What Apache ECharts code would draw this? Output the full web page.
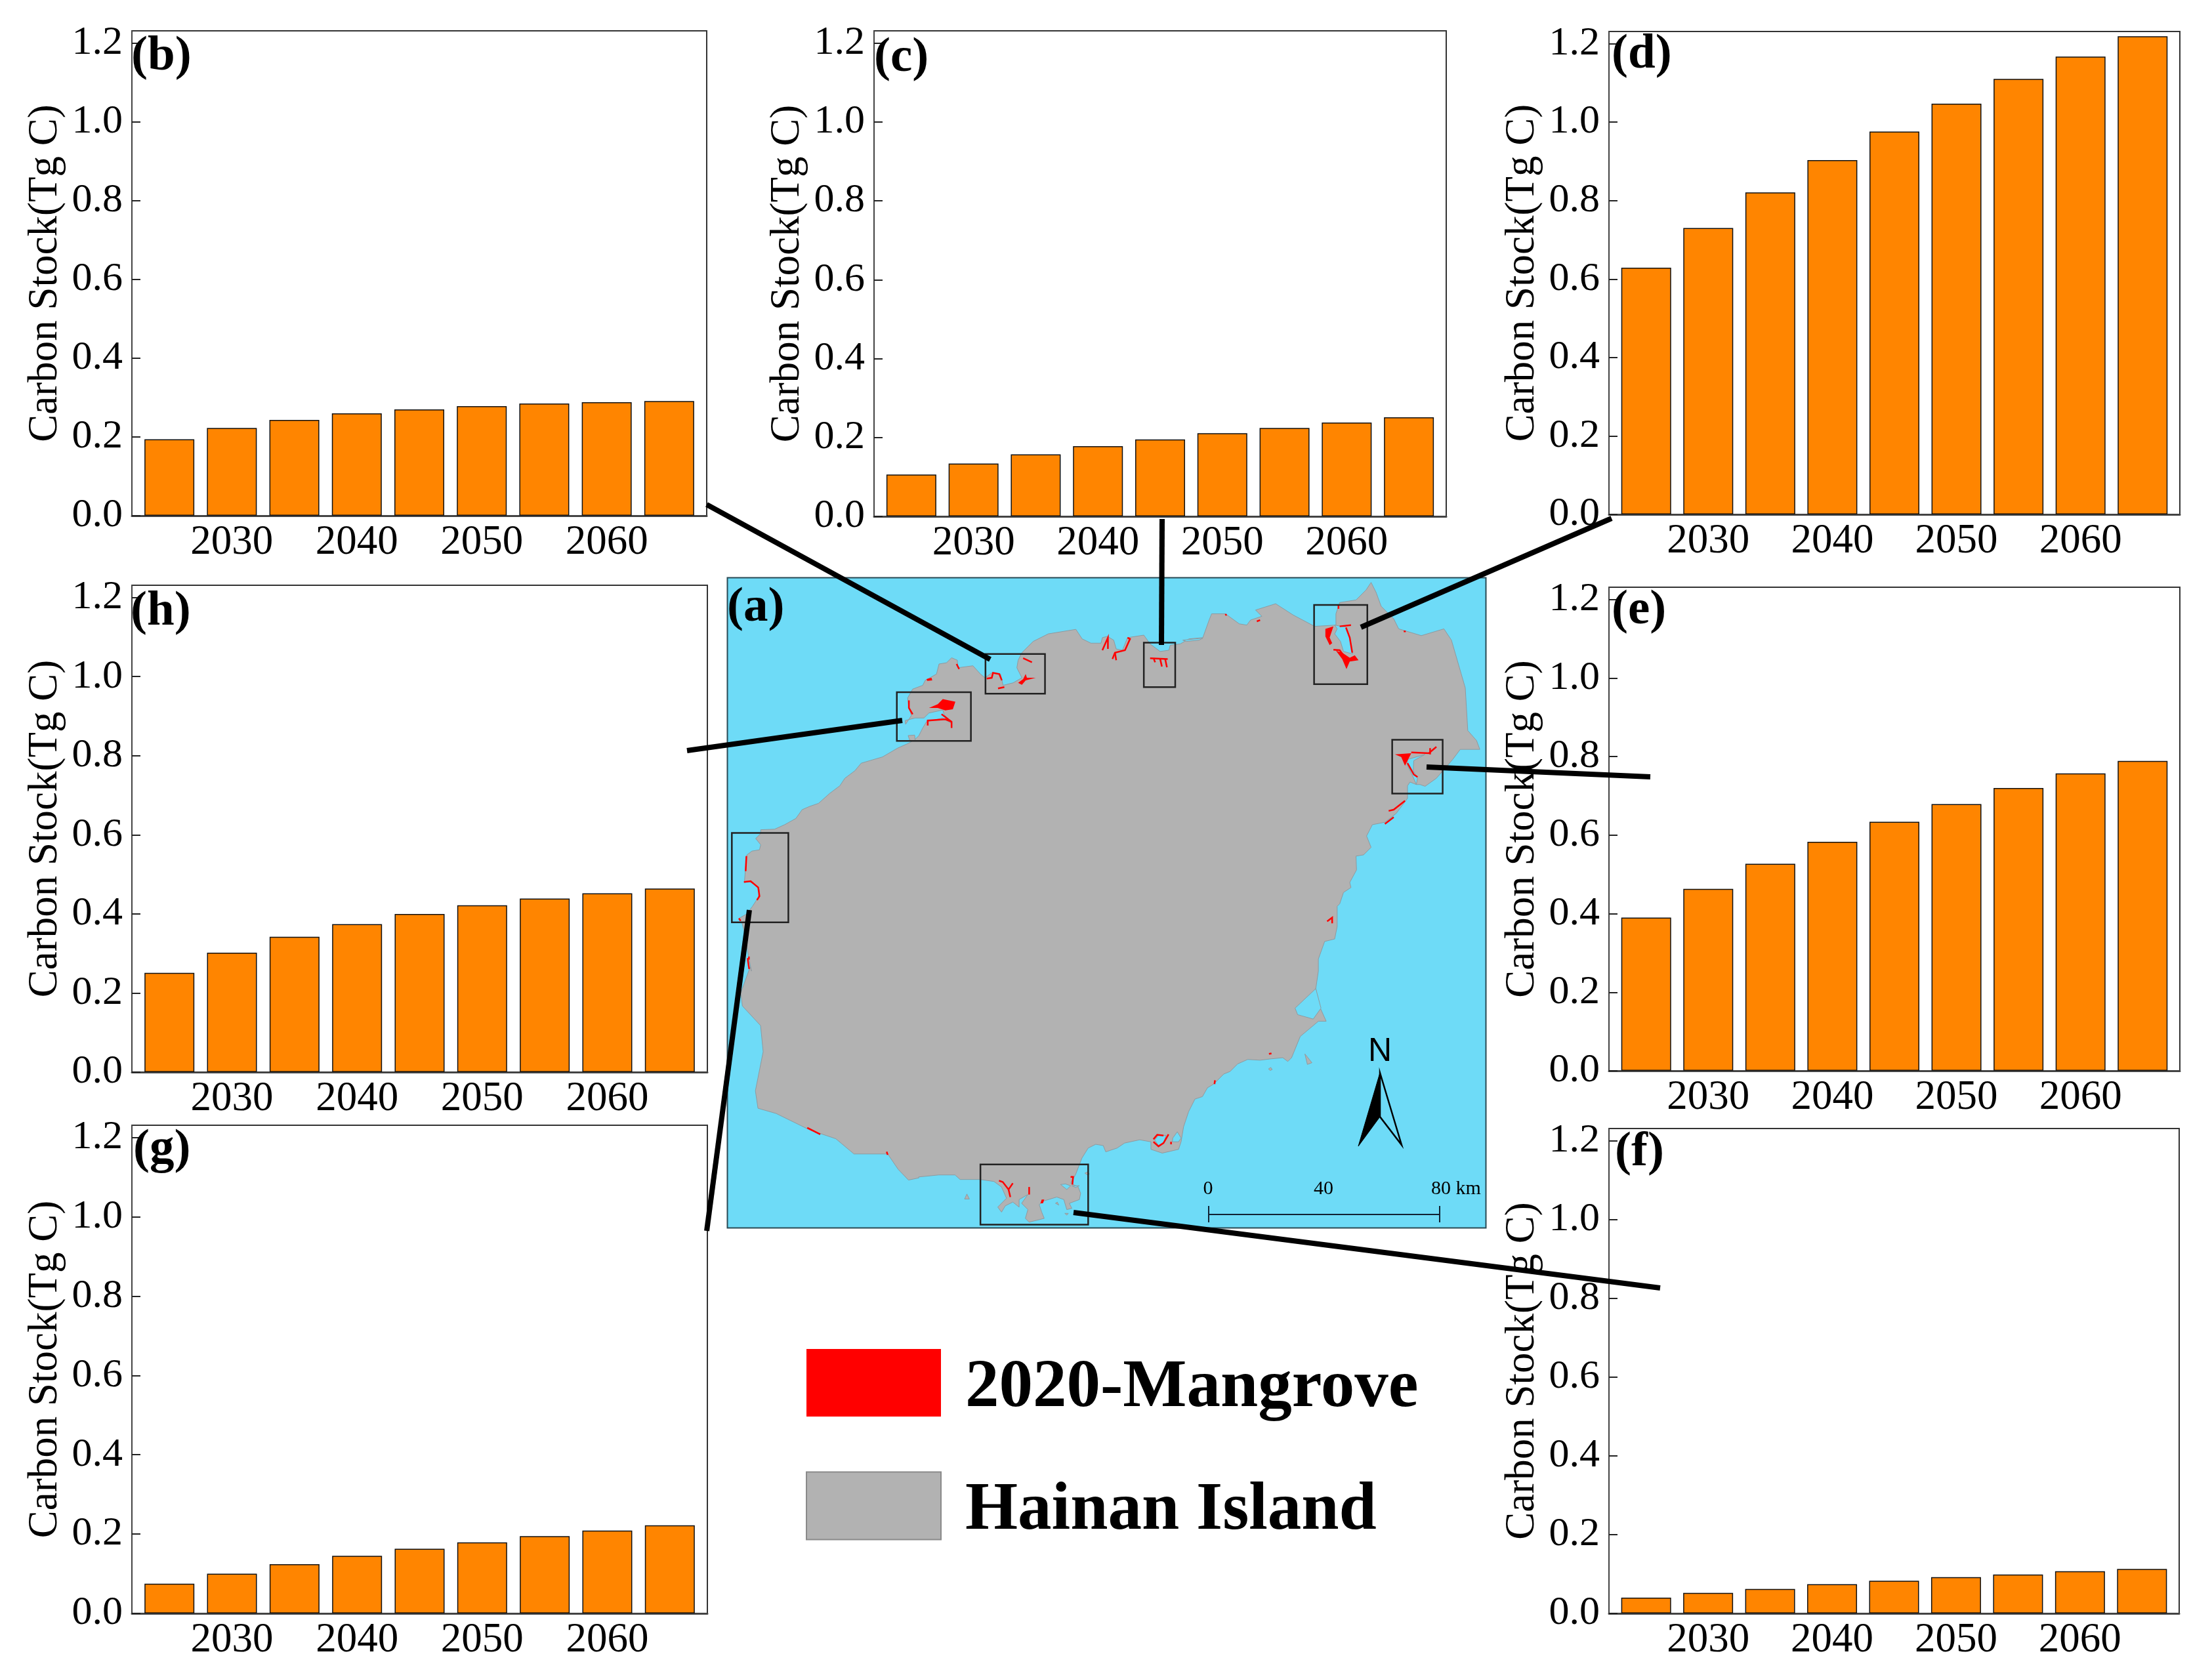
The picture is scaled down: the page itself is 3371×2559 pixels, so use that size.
<!DOCTYPE html>
<html>
<head>
<meta charset="utf-8">
<style>
  html, body { margin: 0; background: #fff; }
  #chart { width: 3371px; height: 2559px; }
</style>
<script src="https://cdn.jsdelivr.net/npm/echarts@6/dist/echarts.min.js"></script>
</head>
<body>
<div id="chart"></div>
<script>
const years = [2025, 2030, 2035, 2040, 2045, 2050, 2055, 2060, 2065];
const yearTicks = [2030, 2040, 2050, 2060];
const stockTicks = [0, 0.2, 0.4, 0.6, 0.8, 1.0, 1.2];

const stockB = [0.194, 0.223, 0.243, 0.26, 0.27, 0.278, 0.285, 0.288, 0.291];
const stockC = [0.106, 0.134, 0.157, 0.178, 0.195, 0.211, 0.224, 0.238, 0.251];
const stockD = [0.629, 0.73, 0.821, 0.903, 0.976, 1.047, 1.11, 1.167, 1.219];
const stockE = [0.39, 0.463, 0.527, 0.583, 0.634, 0.679, 0.72, 0.757, 0.789];
const stockF = [0.04, 0.052, 0.062, 0.074, 0.083, 0.092, 0.0985, 0.107, 0.113];
const stockG = [0.075, 0.1, 0.124, 0.145, 0.163, 0.179, 0.195, 0.209, 0.222];
const stockH = [0.251, 0.302, 0.342, 0.374, 0.4, 0.422, 0.439, 0.452, 0.464];

// panel frames in page pixels
const panels = [
  { label: '(b)', data: stockB, left: 201, right: 1077, top: 47, bottom: 786, labelX: 200, labelY: 49 },
  { label: '(c)', data: stockC, left: 1332, right: 2204, top: 47, bottom: 787, labelX: 1332, labelY: 51 },
  { label: '(d)', data: stockD, left: 2452, right: 3322, top: 48, bottom: 784, labelX: 2456, labelY: 46 },
  { label: '(e)', data: stockE, left: 2452, right: 3322, top: 895, bottom: 1632, labelX: 2456, labelY: 893 },
  { label: '(f)', data: stockF, left: 2452, right: 3321, top: 1720, bottom: 2459, labelX: 2461, labelY: 1719 },
  { label: '(g)', data: stockG, left: 201, right: 1078, top: 1715, bottom: 2459, labelX: 203, labelY: 1715 },
  { label: '(h)', data: stockH, left: 201, right: 1078, top: 892, bottom: 1634, labelX: 199, labelY: 895 }
];

const cropNW = [1100, 880, 0.3827, 0.3827];
const cropNE = [1680, 880, 0.3827, 0.3827];
const cropS = [1400, 1480, 0.3827, 0.3827];
const cropAll = [1080, 860, 0.7908, 0.6633];
const toPage = (crop, pts) => pts.map(p => [crop[0] + p[0] * crop[2], crop[1] + p[1] * crop[3]]);

const coastNW = [[118,1568],[105,1500],[92,1420],[80,1375],[68,1358],[100,1340],[122,1310],[145,1275],[150,1245],[135,1225],[110,1212],[90,1215],[95,1150],[100,1105],[120,1090],[150,1085],[155,1065],[135,1040],[155,1020],[155,1005],[210,1003],[250,985],[295,960],[320,925],[350,912],[385,900],[430,860],[470,830],[490,800],[530,770],[555,740],[640,715],[700,680],[745,660],[770,645],[785,630],[800,600],[815,575],[880,560],[915,582],[885,545],[880,528],[825,540],[805,560],[770,560],[730,570],[732,585],[755,550],[745,520],[740,480],[760,445],[800,430],[810,410],[855,385],[865,345],[895,340],[915,320],[938,330],[940,360],[1000,352],[1030,385],[1048,400],[1075,380],[1110,385],[1120,430],[1160,420],[1195,400],[1175,360],[1180,330],[1195,300],[1240,255],[1300,225],[1410,207],[1435,245],[1470,262],[1510,262]];
const coastNE = [[0,240],[20,235],[45,250],[55,285],[80,290],[100,240],[165,230],[190,265],[230,295],[265,290],[270,270],[310,265],[345,245],[400,240],[425,170],[435,145],[490,145],[545,185],[575,190],[590,170],[635,155],[610,130],[690,105],[760,150],[845,195],[930,190],[930,145],[945,100],[1010,90],[1050,50],[1070,20],[1090,60],[1110,115],[1160,165],[1180,205],[1270,232],[1360,205],[1390,250],[1445,440],[1455,610],[1490,650],[1503,685],[1425,685],[1395,725],[1330,800],[1285,832],[1265,825],[1250,825],[1225,815],[1215,830],[1215,880],[1170,940],[1125,975],[1075,985],[1052,1030],[1070,1075],[1040,1105],[1010,1110],[1012,1165],[985,1215],[990,1235],[960,1255],[945,1300],[935,1310],[935,1390],[925,1440],[885,1450],[860,1520],[860,1568]];
const coastE = [[1170,975],[1175,1010],[1190,1050],[1175,1050],[1140,1085]];
const coastS = [[1485,345],[1470,360],[1450,345],[1400,350],[1360,355],[1310,352],[1270,370],[1240,400],[1215,410],[1175,450],[1150,465],[1130,500],[1100,510],[1075,560],[1055,620],[1045,680],[1035,710],[970,725],[925,710],[925,680],[880,672],[820,685],[790,705],[745,720],[735,695],[705,690],[675,705],[650,745],[625,810],[605,845],[635,860],[645,885],[640,910],[600,925],[610,945],[590,950],[578,910],[550,900],[500,915],[480,930],[490,960],[500,985],[440,1000],[425,985],[435,950],[410,925],[435,890],[400,910],[400,940],[375,920],[345,935],[330,960],[315,940],[350,905],[330,860],[300,838],[245,830],[165,830],[145,812],[80,812],[0,820]];
const coastW = [[405,1410],[385,1415],[365,1390],[345,1355],[280,1355],[245,1320],[195,1300],[130,1262],[95,1250],[90,1210],[105,1120],[100,1060],[65,1015],[62,985],[80,925]];

const islandOutline = [].concat(toPage(cropNW, coastNW), toPage(cropNE, coastNE), toPage(cropAll, coastE),
  toPage(cropS, coastS), toPage(cropAll, coastW));
const islets = [
  toPage(cropS, [[183,908],[192,888],[202,908]]),
  toPage(cropS, [[545,925],[552,920],[558,932]]),
  toPage(cropS, [[582,965],[596,965],[590,972]]),
  toPage(cropS, [[662,805],[672,800],[680,808],[672,812]]),
  toPage(cropS, [[1538,330],[1566,365],[1548,372]]),
  toPage(cropS, [[1393,390],[1402,384],[1408,392],[1400,396]]),
  toPage(cropNW, [[742,630],[768,628],[770,652],[748,648]])
];
const waterPatches = [
  toPage(cropAll, [[1170,975],[1130,1020],[1135,1035],[1165,1045],[1180,1020]]),
  toPage(cropNE, [[925,190],[970,198],[985,240],[997,305],[960,295],[948,255],[925,225],[935,205]]),
  toPage(cropNE, [[1215,725],[1285,705],[1240,730],[1238,770],[1255,800],[1250,825],[1235,790],[1215,750]]),
  toPage(cropNE, [[320,250],[400,242],[385,250],[335,255]]),
  toPage(cropS, [[940,672],[955,655],[985,655],[975,685],[955,695]]),
  toPage(cropS, [[1012,665],[1030,640],[1045,665],[1035,680],[1010,680]]),
  toPage(cropS, [[565,850],[590,870],[605,855],[585,848]]),
  toPage(cropS, [[610,855],[640,855],[625,862]])
];
const mangroveBlobs = [
  toPage(cropNW, [[825,520],[860,505],[880,485],[930,495],[920,525],[890,530],[860,520]]),
  toPage(cropNW, [[1180,420],[1200,405],[1210,385],[1215,400],[1250,400],[1210,410],[1195,428]]),
  toPage(cropNW, [[815,405],[835,400],[838,410],[818,412]]),
  toPage(cropNE, [[888,205],[920,195],[905,240],[915,262],[905,270],[888,235]]),
  toPage(cropNE, [[955,300],[985,320],[1005,310],[1020,330],[985,335],[972,365],[955,325],[930,292]]),
  toPage(cropNE, [[1165,705],[1230,700],[1205,750],[1190,715]]),
  toPage(cropS, [[485,925],[490,910],[500,910],[495,925]])
];
const mangroveLines = [
  toPage(cropNW, [[745,490],[745,520],[760,545]]),
  toPage(cropNW, [[875,545],[915,575],[915,600]]),
  toPage(cropNW, [[820,590],[820,570],[890,565],[915,575]]),
  toPage(cropNW, [[98,1110],[95,1170]]),
  toPage(cropNW, [[88,1213],[115,1210],[145,1235],[150,1270],[140,1285]]),
  toPage(cropNW, [[68,1358],[75,1368]]),
  toPage(cropNW, [[935,345],[945,365]]),
  toPage(cropNW, [[1055,403],[1075,400],[1080,380],[1105,385],[1115,410]]),
  toPage(cropNW, [[1100,442],[1125,437]]),
  toPage(cropNW, [[1200,322],[1235,338]]),
  toPage(cropNW, [[108,1510],[108,1522]]),
  toPage(cropNE, [[0,290],[22,240],[22,285]]),
  toPage(cropNE, [[100,240],[110,245],[90,290],[50,300],[40,325]]),
  toPage(cropNE, [[50,300],[55,330]]),
  toPage(cropNE, [[190,322],[260,325]]),
  toPage(cropNE, [[205,325],[210,338]]),
  toPage(cropNE, [[230,325],[237,355]]),
  toPage(cropNE, [[250,325],[257,358]]),
  toPage(cropNE, [[490,146],[494,152]]),
  toPage(cropNE, [[615,175],[628,170]]),
  toPage(cropNE, [[940,112],[940,125]]),
  toPage(cropNE, [[945,195],[990,190]]),
  toPage(cropNE, [[970,200],[985,240],[995,300]]),
  toPage(cropNE, [[920,288],[945,290],[960,310]]),
  toPage(cropNE, [[1230,697],[1300,700],[1330,675]]),
  toPage(cropNE, [[1305,680],[1305,705]]),
  toPage(cropNE, [[1215,740],[1240,785],[1255,795]]),
  toPage(cropNE, [[1205,890],[1160,925],[1140,930]]),
  toPage(cropNE, [[1160,955],[1125,982]]),
  toPage(cropNE, [[895,1370],[915,1355],[915,1378]]),
  toPage(cropNE, [[1200,215],[1208,215]]),
  toPage(cropS, [[320,835],[335,840],[358,870],[375,845]]),
  toPage(cropS, [[358,870],[365,900]]),
  toPage(cropS, [[440,860],[440,890]]),
  toPage(cropS, [[605,820],[615,820],[612,850]]),
  toPage(cropS, [[935,670],[950,652],[975,655]]),
  toPage(cropS, [[995,650],[975,685],[955,698],[935,680]]),
  toPage(cropS, [[1005,680],[1005,690]]),
  toPage(cropS, [[1180,435],[1178,450]]),
  toPage(cropS, [[1395,330],[1405,328]]),
  toPage(cropAll, [[190,1295],[215,1310]]),
  toPage(cropAll, [[343,1350],[345,1357]]),
  toPage(cropAll, [[75,905],[78,930]])
];
const boxRect = (crop, x0, y0, x1, y1) => toPage(crop, [[x0,y0],[x1,y0],[x1,y1],[x0,y1]]);
const insetBoxes = [
  boxRect(cropNW, 1050, 305, 1287, 463),
  boxRect(cropNW, 697, 457, 992, 651),
  boxRect(cropNW, 40, 1018, 265, 1374),
  boxRect(cropNE, 165, 260, 290, 437),
  boxRect(cropNE, 843, 110, 1055, 425),
  boxRect(cropNE, 1154, 647, 1355, 861),
  boxRect(cropS, 246, 770, 675, 1010)
];
const connectors = [
  [[1077, 769], [1509, 1005]],
  [[1771, 791], [1770, 983]],
  [[2456, 790], [2074, 956]],
  [[2515, 1184], [2174, 1169]],
  [[2530, 1963], [1636, 1848]],
  [[1077, 1876], [1142, 1387]],
  [[1047, 1144], [1375, 1098]]
];
const scaleBar = [
  [[1842, 1851], [2194, 1851]],
  [[1842, 1838], [1842, 1863]],
  [[2194, 1838], [2194, 1863]]
];
const arrowDark = [[2103, 1635], [2070, 1747], [2103, 1702]];
const arrowLight = [[2103, 1635], [2136, 1745], [2103, 1702]];

const serif = '"Liberation Serif", "Times New Roman", serif';
const orange = '#FF8500';
const water = '#6EDBF7';
const land = '#B2B2B2';
const red = '#FF0000';

const grids = [], xAxes = [], yAxes = [], series = [], titles = [];

panels.forEach((p, i) => {
  grids.push({
    left: p.left, top: p.top, width: p.right - p.left, height: p.bottom - p.top,
    show: true, borderColor: '#333', borderWidth: 2, backgroundColor: 'transparent'
  });
  xAxes.push({
    type: 'value', gridIndex: i, min: 2022, max: 2068,
    splitLine: { show: false },
    axisLine: { lineStyle: { color: '#444', width: 3 } },
    axisTick: { inside: true, length: 12, lineStyle: { color: '#222', width: 2 }, customValues: yearTicks },
    axisLabel: { customValues: yearTicks, formatter: v => String(v), color: '#000', fontFamily: serif, fontSize: 63, margin: 10 }
  });
  yAxes.push({
    type: 'value', gridIndex: i, min: 0, max: 1.231,
    name: 'Carbon Stock(Tg C)', nameLocation: 'middle', nameGap: 100, nameRotate: 90,
    nameTextStyle: { color: '#000', fontFamily: serif, fontSize: 63 },
    splitLine: { show: false },
    axisLine: { show: true, lineStyle: { color: '#444', width: 2 } },
    axisTick: { show: true, inside: true, length: 13, lineStyle: { color: '#222', width: 2 }, customValues: stockTicks },
    axisLabel: { customValues: stockTicks, formatter: v => v.toFixed(1), color: '#000', fontFamily: serif, fontSize: 62, margin: 14 }
  });
  series.push({
    type: 'bar', name: p.label, xAxisIndex: i, yAxisIndex: i, barWidth: 76,
    data: years.map((y, k) => [y, p.data[k]]),
    itemStyle: { color: orange, borderColor: '#111', borderWidth: 1.5 }
  });
  titles.push({
    text: p.label, left: p.labelX, top: p.labelY, padding: 0, z: 6,
    textStyle: { fontFamily: serif, fontWeight: 'bold', fontSize: 75, color: '#000' }
  });
});

// the map sits in its own grid, its hidden axes run in page pixels
const mapIndex = panels.length;
grids.push({
  left: 1108.5, top: 880.5, width: 1156, height: 991,
  show: true, backgroundColor: water, borderColor: '#2a4a55', borderWidth: 2
});
xAxes.push({ type: 'value', gridIndex: mapIndex, min: 1108.5, max: 2264.5, show: false });
yAxes.push({ type: 'value', gridIndex: mapIndex, min: 880.5, max: 1871.5, inverse: true, show: false });

function shapes(name, list, closed, style, z) {
  return {
    type: 'custom', name, xAxisIndex: mapIndex, yAxisIndex: mapIndex, z, silent: true,
    data: list.map((pts, i) => [pts[0][0], pts[0][1], i]),
    renderItem: (params, api) => ({
      type: closed ? 'polygon' : 'polyline',
      shape: { points: list[api.value(2)].map(pt => api.coord(pt)) },
      style
    })
  };
}

series.push(
  shapes('Hainan Island', [islandOutline].concat(islets), true, { fill: land, stroke: '#8f9a9f', lineWidth: 1 }, 3),
  shapes('water', waterPatches, true, { fill: water, stroke: '#8f9a9f', lineWidth: 1 }, 3),
  shapes('2020-Mangrove', mangroveBlobs, true, { fill: red }, 4),
  shapes('mangrove lines', mangroveLines, false, { fill: 'none', stroke: red, lineWidth: 2.5 }, 4),
  shapes('insets', insetBoxes, true, { fill: 'none', stroke: '#222', lineWidth: 2.5 }, 5),
  shapes('connectors', connectors, false, { fill: 'none', stroke: '#000', lineWidth: 8 }, 7),
  shapes('scale bar', scaleBar, false, { fill: 'none', stroke: '#123', lineWidth: 2 }, 5),
  shapes('arrow dark', [arrowDark], true, { fill: '#000', stroke: '#000', lineWidth: 1 }, 5),
  shapes('arrow light', [arrowLight], true, { fill: 'none', stroke: '#000', lineWidth: 2.5 }, 5)
);

titles.push(
  { text: '(a)', left: 1108, top: 889, padding: 0, z: 6, textStyle: { fontFamily: serif, fontWeight: 'bold', fontSize: 75, color: '#000' } },
  { text: '0', left: 1841, top: 1797, textAlign: 'center', padding: 0, z: 6, textStyle: { fontFamily: serif, fontWeight: 'normal', fontSize: 30, color: '#000' } },
  { text: '40', left: 2017, top: 1797, textAlign: 'center', padding: 0, z: 6, textStyle: { fontFamily: serif, fontWeight: 'normal', fontSize: 30, color: '#000' } },
  { text: '80 km', left: 2219, top: 1797, textAlign: 'center', padding: 0, z: 6, textStyle: { fontFamily: serif, fontWeight: 'normal', fontSize: 30, color: '#000' } },
  { text: 'N', left: 2103, top: 1578, textAlign: 'center', padding: 0, z: 6, textStyle: { fontFamily: '"Liberation Sans", Arial, sans-serif', fontWeight: 'normal', fontSize: 50, color: '#000' } }
);

const chart = echarts.init(document.getElementById('chart'));
chart.setOption({
  animation: false,
  backgroundColor: '#fff',
  title: titles,
  grid: grids,
  xAxis: xAxes,
  yAxis: yAxes,
  legend: {
    left: 1223, top: 2051, orient: 'vertical', itemWidth: 205, itemHeight: 103, itemGap: 75,
    selectedMode: false, align: 'left', icon: 'rect',
    formatter: '{t|{name}}',
    textStyle: {
      color: '#000',
      rich: { t: { fontFamily: serif, fontWeight: 'bold', fontSize: 103, color: '#000', padding: [17, 0, 0, 32] } }
    },
    data: [
      { name: '2020-Mangrove', itemStyle: { color: red, borderWidth: 0 } },
      { name: 'Hainan Island', itemStyle: { color: land, borderColor: '#8a8a8a', borderWidth: 2 } }
    ]
  },
  series
});
</script>
</body>
</html>
